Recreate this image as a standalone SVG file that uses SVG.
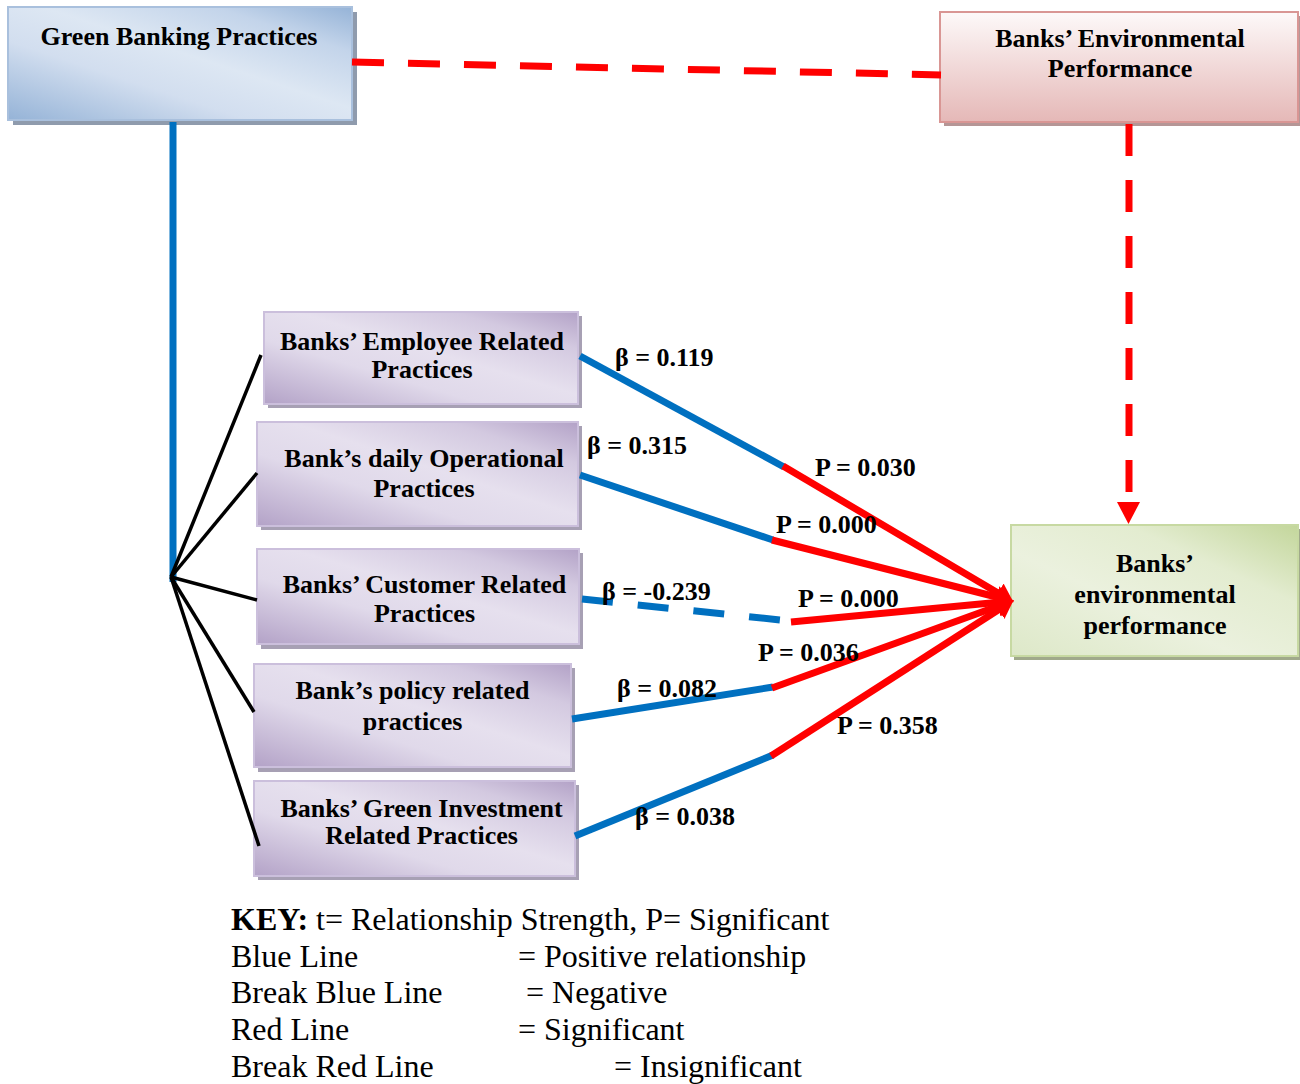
<svg xmlns="http://www.w3.org/2000/svg" width="1300" height="1084" viewBox="0 0 1300 1084">
<defs>
  <linearGradient id="gBlue" x1="0" y1="1" x2="1" y2="0">
    <stop offset="0" stop-color="#95b3d7"/>
    <stop offset="0.35" stop-color="#d2deef"/>
    <stop offset="0.55" stop-color="#dde7f3"/>
    <stop offset="0.8" stop-color="#c3d4ea"/>
    <stop offset="1" stop-color="#95b3d7"/>
  </linearGradient>
  <linearGradient id="gPink" x1="0" y1="0" x2="0" y2="1">
    <stop offset="0" stop-color="#fdf9f9"/>
    <stop offset="1" stop-color="#e5b8b7"/>
  </linearGradient>
  <linearGradient id="gGreen" x1="0" y1="1" x2="1" y2="0">
    <stop offset="0" stop-color="#dde8c8"/>
    <stop offset="0.4" stop-color="#ebf1de"/>
    <stop offset="0.7" stop-color="#e3ecd0"/>
    <stop offset="1" stop-color="#c3d69b"/>
  </linearGradient>
  <linearGradient id="gPurple" x1="0" y1="1" x2="1" y2="0">
    <stop offset="0" stop-color="#b3a2c7"/>
    <stop offset="0.35" stop-color="#e0d9ea"/>
    <stop offset="0.55" stop-color="#e6e0ee"/>
    <stop offset="0.8" stop-color="#d3c9e0"/>
    <stop offset="1" stop-color="#b3a2c7"/>
  </linearGradient>
  <marker id="arrR" markerUnits="userSpaceOnUse" markerWidth="20" markerHeight="24" refX="0" refY="12" orient="auto">
    <path d="M0,1 L18,12 L0,23 Z" fill="#ff0000"/>
  </marker>
  <style>
    .bt { font-family: "Liberation Serif", "Times New Roman", serif; font-weight: bold; font-size: 26px; fill: #000; text-anchor: middle; }
    .lb { font-family: "Liberation Serif", "Times New Roman", serif; font-weight: bold; font-size: 26px; fill: #000; }
    .key { font-family: "Liberation Serif", "Times New Roman", serif; font-size: 32px; fill: #000; }
    .shP { fill: #a7a0b4; }
    .bxP { fill: url(#gPurple); stroke: #cbbfdc; stroke-width: 2; }
    .blue { stroke: #0070c0; stroke-width: 7; fill: none; }
    .red { stroke: #ff0000; stroke-width: 7; fill: none; }
    .blk { stroke: #000; stroke-width: 3.5; fill: none; }
  </style>
</defs>

<g id="node-gbp">
  <rect x="13" y="12" width="344" height="113" fill="#8f9bad"/>
  <rect x="8" y="7" width="344" height="113" fill="url(#gBlue)" stroke="#a9c0dd" stroke-width="2"/>
  <text class="bt" x="179" y="45">Green Banking Practices</text>
</g>

<g id="node-bep-top">
  <rect x="944" y="16" width="356" height="110" fill="#b59696"/>
  <rect x="940" y="12" width="358" height="110" fill="url(#gPink)" stroke="#d99694" stroke-width="2"/>
  <text class="bt" x="1120" y="47">Banks’ Environmental</text>
  <text class="bt" x="1120" y="77">Performance</text>
</g>

<g id="node-bep">
  <rect x="1014" y="529" width="286" height="131" fill="#a0a98b"/>
  <rect x="1011" y="525" width="287" height="131" fill="url(#gGreen)" stroke="#c7d9a2" stroke-width="2"/>
  <text class="bt" x="1155" y="572">Banks’</text>
  <text class="bt" x="1155" y="603">environmental</text>
  <text class="bt" x="1155" y="634">performance</text>
</g>

<g id="node-employee">
  <rect class="shP" x="268" y="316" width="314" height="92"/>
  <rect class="bxP" x="264" y="312" width="314" height="92"/>
  <text class="bt" x="422" y="350">Banks’ Employee Related</text>
  <text class="bt" x="422" y="378">Practices</text>
</g>

<g id="node-operational">
  <rect class="shP" x="261" y="426" width="321" height="104"/>
  <rect class="bxP" x="257" y="422" width="321" height="104"/>
  <text class="bt" x="424" y="467">Bank’s daily Operational</text>
  <text class="bt" x="424" y="497">Practices</text>
</g>

<g id="node-customer">
  <rect class="shP" x="261" y="553" width="322" height="96"/>
  <rect class="bxP" x="257" y="549" width="322" height="95"/>
  <text class="bt" x="424.5" y="593">Banks’ Customer Related</text>
  <text class="bt" x="424.5" y="622">Practices</text>
</g>

<g id="node-policy">
  <rect class="shP" x="258" y="668" width="317" height="104"/>
  <rect class="bxP" x="254" y="664" width="317" height="103"/>
  <text class="bt" x="412.5" y="699">Bank’s policy related</text>
  <text class="bt" x="412.5" y="730">practices</text>
</g>

<g id="node-investment">
  <rect class="shP" x="258" y="785" width="321" height="95"/>
  <rect class="bxP" x="254" y="781" width="321" height="95"/>
  <text class="bt" x="421.5" y="817">Banks’ Green Investment</text>
  <text class="bt" x="421.5" y="844">Related Practices</text>
</g>

<g id="connectors">
  <line class="red" x1="352" y1="62" x2="941" y2="75" stroke-dasharray="32 24"/>
  <line class="red" x1="1129" y1="124" x2="1129" y2="503" stroke-dasharray="32 24"/>
  <polygon points="1117,502 1140,502 1128.5,524" fill="#ff0000"/>
  <line class="blue" x1="173" y1="122" x2="173" y2="582"/>
  <line class="blk" x1="171" y1="577" x2="261" y2="355"/>
  <line class="blk" x1="171" y1="577" x2="257" y2="473"/>
  <line class="blk" x1="171" y1="577" x2="257" y2="600"/>
  <line class="blk" x1="171" y1="577" x2="254" y2="712"/>
  <line class="blk" x1="171" y1="577" x2="259" y2="846"/>
  <line class="blue" x1="580" y1="356" x2="784" y2="467"/>
  <line class="blue" x1="580" y1="475" x2="773" y2="540"/>
  <line class="blue" x1="582" y1="599" x2="780" y2="620" stroke-dasharray="31 25"/>
  <line class="blue" x1="572" y1="719" x2="773" y2="687"/>
  <line class="blue" x1="575" y1="836" x2="773" y2="755"/>
  <line class="red" x1="783" y1="466" x2="998" y2="593" marker-end="url(#arrR)"/>
  <line class="red" x1="772" y1="540" x2="996.5" y2="597" marker-end="url(#arrR)"/>
  <line class="red" x1="791" y1="622" x2="996" y2="602.5" marker-end="url(#arrR)"/>
  <line class="red" x1="772" y1="688" x2="997" y2="606.5" marker-end="url(#arrR)"/>
  <line class="red" x1="771" y1="756" x2="998.5" y2="609.7" marker-end="url(#arrR)"/>
</g>

<g id="labels">
  <text class="lb" x="615" y="366">β = 0.119</text>
  <text class="lb" x="587" y="454">β = 0.315</text>
  <text class="lb" x="815" y="476">P = 0.030</text>
  <text class="lb" x="776" y="533">P = 0.000</text>
  <text class="lb" x="602" y="600">β = -0.239</text>
  <text class="lb" x="798" y="607">P = 0.000</text>
  <text class="lb" x="758" y="661">P = 0.036</text>
  <text class="lb" x="617" y="697">β = 0.082</text>
  <text class="lb" x="837" y="734">P = 0.358</text>
  <text class="lb" x="635" y="825">β = 0.038</text>
</g>

<g id="key">
  <text class="key" x="231" y="930"><tspan font-weight="bold">KEY:</tspan> t= Relationship Strength, P= Significant</text>
  <text class="key" x="231" y="967">Blue Line</text>
  <text class="key" x="518" y="967">= Positive relationship</text>
  <text class="key" x="231" y="1003">Break Blue Line</text>
  <text class="key" x="526" y="1003">= Negative</text>
  <text class="key" x="231" y="1040">Red Line</text>
  <text class="key" x="518" y="1040">= Significant</text>
  <text class="key" x="231" y="1077">Break Red Line</text>
  <text class="key" x="614" y="1077">= Insignificant</text>
</g>
</svg>
